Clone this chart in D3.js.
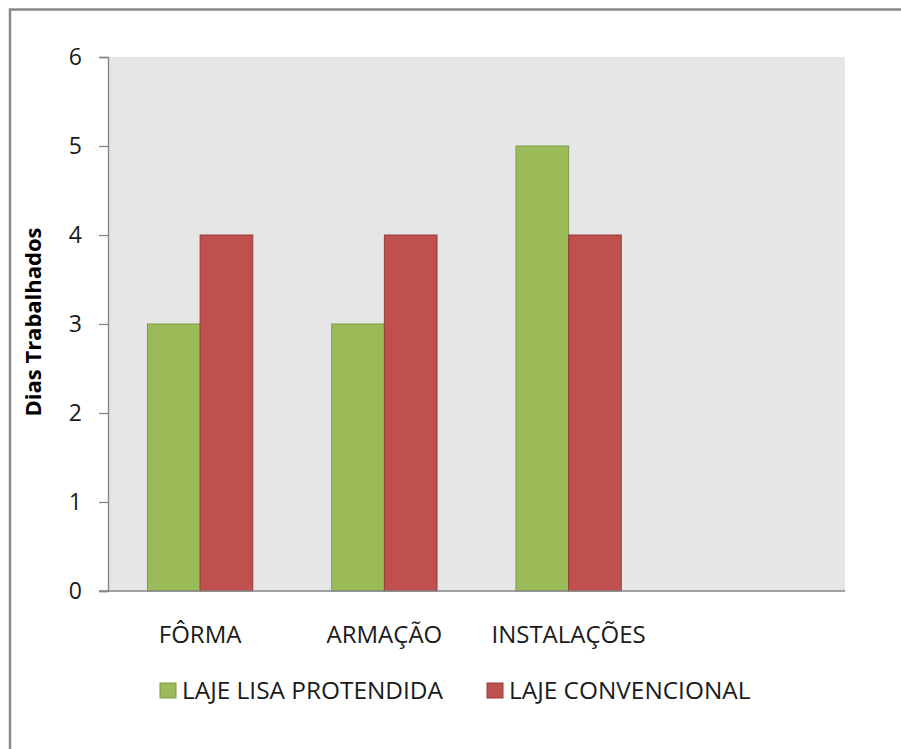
<!DOCTYPE html>
<html>
<head>
<meta charset="utf-8">
<script src="https://cdn.jsdelivr.net/npm/d3@7"></script>
<style>
  html, body { margin: 0; padding: 0; background: #fff; }
  svg { display: block; font-family: "Open Sans", "DejaVu Sans", sans-serif; }
</style>
</head>
<body>
<svg id="chart" width="901" height="749"></svg>
<script>
// Working days per construction stage, for each slab type
const categories = ["FÔRMA", "ARMAÇÃO", "INSTALAÇÕES", ""];
const seriesNames = ["LAJE LISA PROTENDIDA", "LAJE CONVENCIONAL"];
const lajeLisaProtendida = [3, 3, 5, null];
const lajeConvencional = [4, 4, 4, null];
const yTicks = [0, 1, 2, 3, 4, 5, 6];
const yTitle = "Dias Trabalhados";

const fills = ["#9BBB59", "#C0504D"];
const strokes = ["#7E9A47", "#943C3A"];
const FONT = '"Open Sans", "DejaVu Sans", sans-serif';

const svg = d3.select("#chart");

// outer chart frame (continues past the right/bottom edges)
svg.append("rect")
  .attr("x", 10).attr("y", 9.5)
  .attr("width", 1000).attr("height", 1000)
  .attr("fill", "#fff")
  .attr("stroke", "#8a8a8a")
  .attr("stroke-width", 2.5);

const plot = { left: 108, right: 845, top: 57, bottom: 591 };

const x = d3.scaleBand()
  .domain(d3.range(categories.length))
  .range([plot.left, plot.right])
  .paddingInner(0)
  .paddingOuter(0);

const y = d3.scaleLinear()
  .domain([0, 6])
  .range([plot.bottom, plot.top]);

// plot background
svg.append("rect")
  .attr("x", plot.left).attr("y", plot.top)
  .attr("width", plot.right - plot.left)
  .attr("height", plot.bottom - plot.top)
  .attr("fill", "#E6E6E6");

// bars: each group takes 2 bar widths, the gap 1.5 bar widths
const barW = x.bandwidth() / 3.5;
const series = [lajeLisaProtendida, lajeConvencional];
series.forEach((vals, s) => {
  svg.append("g")
    .selectAll("rect")
    .data(vals.map((v, i) => ({ v, i })).filter(d => d.v != null))
    .join("rect")
    .attr("x", d => x(d.i) + x.bandwidth() / 2 - barW + s * barW)
    .attr("y", d => y(d.v))
    .attr("width", barW)
    .attr("height", d => y(0) - y(d.v))
    .attr("fill", fills[s])
    .attr("stroke", strokes[s])
    .attr("stroke-width", 1);
});

// y axis
const yAxis = d3.axisLeft(y)
  .tickValues(yTicks)
  .tickFormat(d3.format("d"))
  .tickSize(9)
  .tickPadding(17);
const gy = svg.append("g")
  .attr("transform", `translate(${plot.left},0)`)
  .call(yAxis)
  .attr("font-family", FONT)
  .attr("font-size", 23);
gy.select(".domain").attr("stroke", "#868686").attr("stroke-width", 1.3);
gy.selectAll(".tick line").attr("stroke", "#868686").attr("stroke-width", 1.3);
gy.selectAll(".tick text").attr("fill", "#1a1a1a");

// x axis baseline
svg.append("line")
  .attr("x1", plot.left - 9).attr("x2", plot.right)
  .attr("y1", y(0)).attr("y2", y(0))
  .attr("stroke", "#868686").attr("stroke-width", 1.5);

// category labels
svg.append("g")
  .selectAll("text")
  .data(categories)
  .join("text")
  .attr("x", (d, i) => x(i) + x.bandwidth() / 2)
  .attr("y", 643)
  .attr("text-anchor", "middle")
  .attr("fill", "#1a1a1a")
  .style("font-size", "24px")
  .text(d => d);

// y axis title
svg.append("text")
  .attr("transform", `translate(41,${(plot.top + plot.bottom) / 2 - 2}) rotate(-90)`)
  .attr("text-anchor", "middle")
  .attr("fill", "#000")
  .style("font-size", "22px")
  .style("font-weight", "bold")
  .text(yTitle);

// legend
const legendX = [160, 487];
const legend = svg.append("g");
seriesNames.forEach((name, s) => {
  legend.append("rect")
    .attr("x", legendX[s]).attr("y", 683)
    .attr("width", 16).attr("height", 15)
    .attr("fill", fills[s])
    .attr("stroke", strokes[s])
    .attr("stroke-width", 1);
  legend.append("text")
    .attr("x", legendX[s] + 22)
    .attr("y", 698.5)
    .attr("fill", "#1a1a1a")
    .style("font-size", "24.4px")
    .text(name);
});
</script>
</body>
</html>
